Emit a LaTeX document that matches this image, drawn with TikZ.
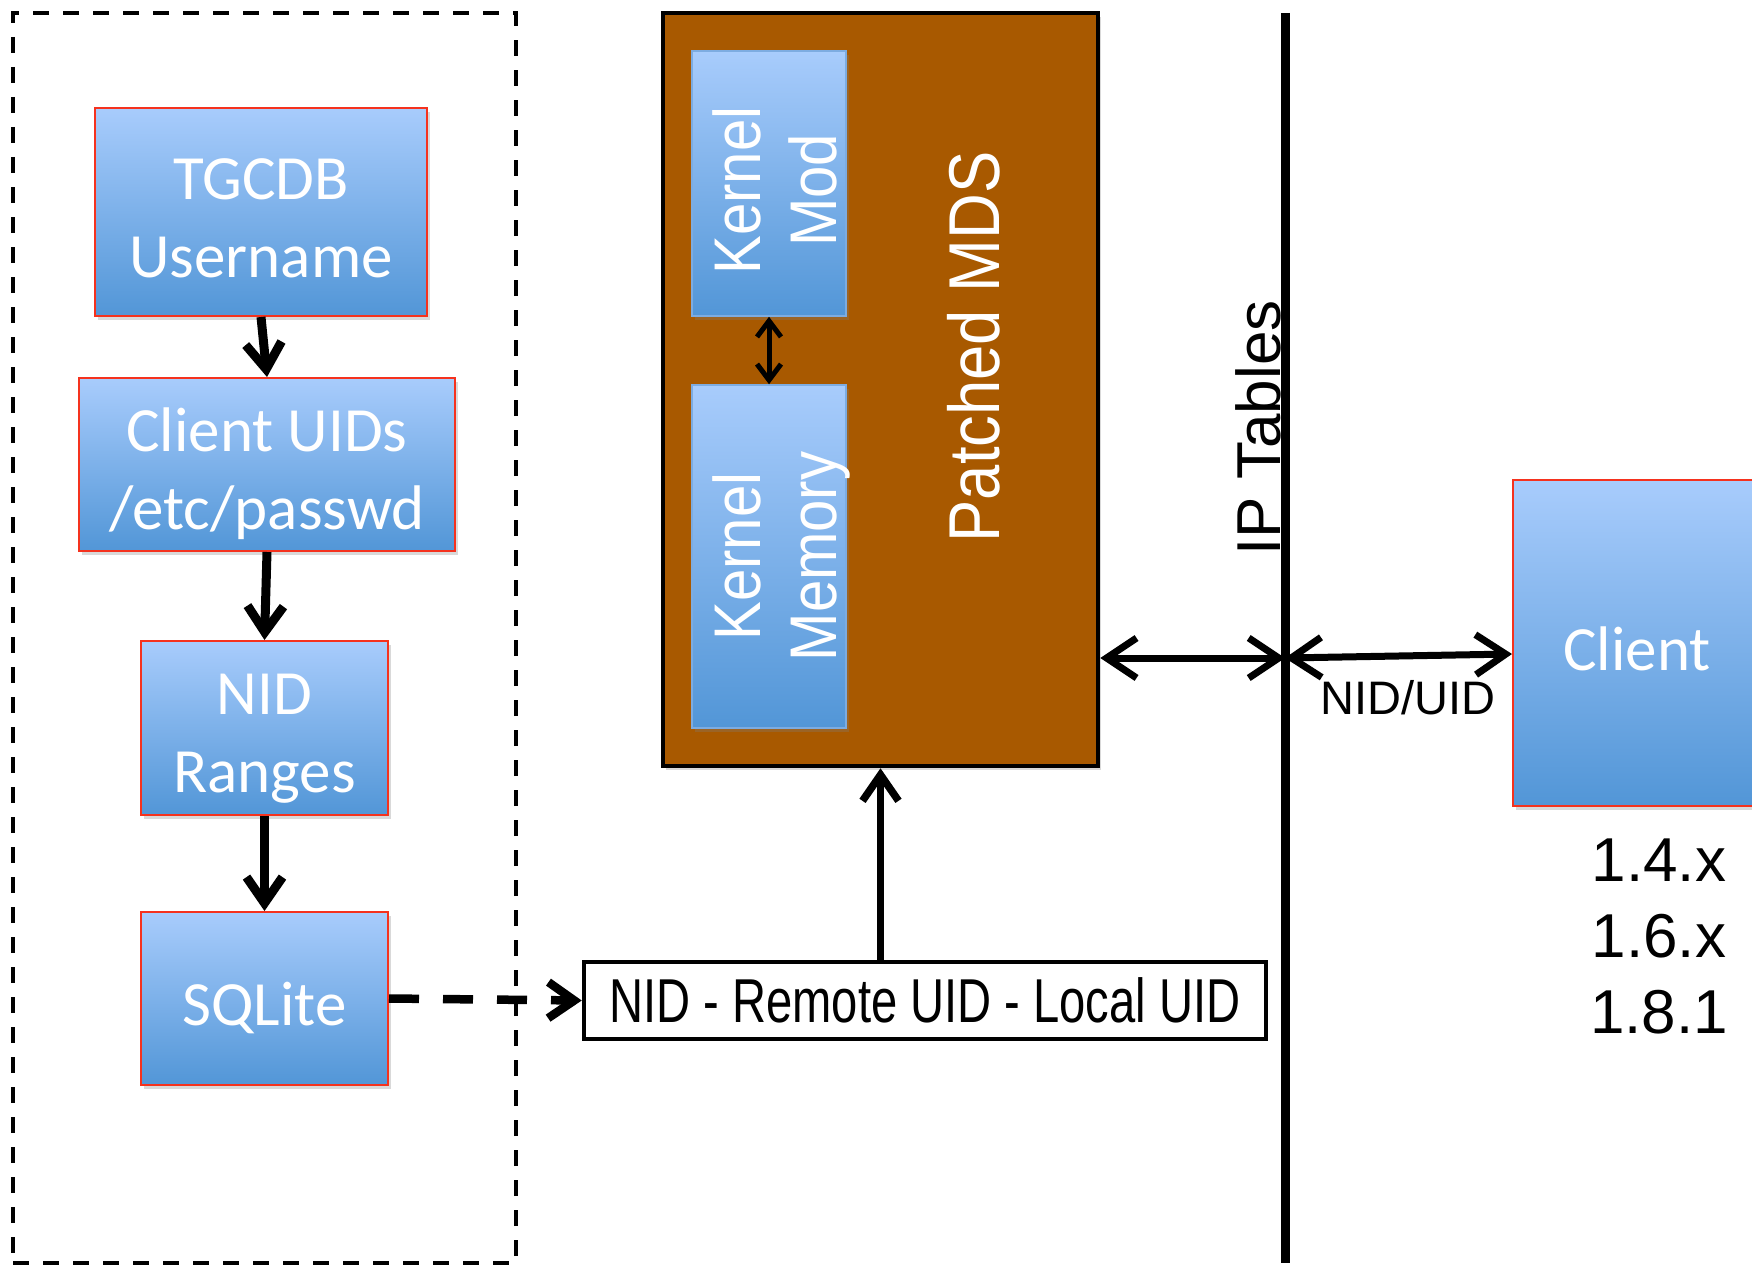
\documentclass[tikz,border=0pt]{standalone}
\usepackage{fontspec}
\setmainfont{Carlito}
\newfontfamily\arialf{Liberation Sans}
\newfontfamily\narrowf[FakeStretch=0.88]{Liberation Sans}
\newfontfamily\mapf[FakeStretch=0.76]{Liberation Sans}
\usetikzlibrary{arrows.meta,shadows}
\definecolor{bluetop}{RGB}{168,204,252}
\definecolor{bluebot}{RGB}{82,150,215}
\definecolor{boxred}{RGB}{245,50,30}
\definecolor{mdsbrown}{RGB}{168,89,0}
\definecolor{kborder}{RGB}{125,172,225}
\begin{document}
\begin{tikzpicture}[x=1pt,y=-1pt,
  shad/.style={drop shadow={shadow xshift=3pt,shadow yshift=-4pt,opacity=0.3}},
  bluebox/.style={shad,draw=boxred,line width=2pt,top color=bluetop,bottom color=bluebot,inner sep=0pt},
  boxtext/.style={text=white,font=\fontsize{63}{78}\selectfont,align=center,inner sep=0pt},
  kbox/.style={shad,draw=kborder,line width=1.5pt,top color=bluetop,bottom color=bluebot,inner sep=0pt},
  ktext/.style={rotate=90,text=white,align=center,inner sep=0pt,text depth=0pt,font=\narrowf\fontsize{66}{76}\selectfont},
  grpbox/.style={draw,line width=3.5pt,dash pattern=on 16pt off 14pt,inner sep=0pt},
  flow/.style={line width=9pt,-{Straight Barb[length=26pt,width=36pt]}},
  dflow/.style={line width=8.5pt,dash pattern=on 30pt off 24pt,-{Straight Barb[length=26pt,width=36pt]}},
  upflow/.style={line width=7.5pt,-{Straight Barb[length=26pt,width=36pt]}},
  dbl/.style={line width=7pt,{Straight Barb[length=30pt,width=40pt]}-{Straight Barb[length=30pt,width=40pt]}},
  kdbl/.style={line width=5pt,{Straight Barb[length=16pt,width=24pt]}-{Straight Barb[length=16pt,width=24pt]}}
]
\useasboundingbox (0,0) rectangle (1752,1268);
\clip (0,0) rectangle (1752,1268);

% left dashed group
\node[grpbox,minimum width=503pt,minimum height=1250pt] (grp) at (264.5,638) {};

\node[bluebox,minimum width=332pt,minimum height=208pt] (tgcdb) at (261,212) {};
\node[bluebox,minimum width=376pt,minimum height=173pt] (uids) at (267,464.5) {};
\node[bluebox,minimum width=247pt,minimum height=174pt] (nid) at (264.5,728) {};
\node[bluebox,minimum width=247pt,minimum height=173pt] (sqlite) at (264.5,998.5) {};
\node[boxtext] (tgcdbtxt) at ([yshift=-6pt]tgcdb.center) {TGCDB\\Username};
\node[boxtext] (uidstxt) at ([yshift=-9pt]uids.center) {Client UIDs\\/etc/passwd};
\node[boxtext] (nidtxt) at ([yshift=-11pt]nid.center) {NID\\Ranges};
\node[boxtext] (sqlitetxt) at ([yshift=-9pt]sqlite.center) {SQLite};

\draw[flow] (tgcdb.south) -- (uids.north);
\draw[flow] (uids.south) -- (nid.north);
\draw[flow] (nid.south) -- (sqlite.north);

% patched MDS
\node[shad,draw=black,line width=4.5pt,fill=mdsbrown,minimum width=435pt,minimum height=753pt,inner sep=0pt] (mds) at (880.5,389.5) {};
\node[rotate=90,text=white,inner sep=0pt,font=\narrowf\fontsize{72}{86}\selectfont] (mdstxt) at (974,347) {Patched MDS};
\node[kbox,minimum width=154pt,minimum height=265pt] (kmod) at (769,183.5) {};
\node[kbox,minimum width=154pt,minimum height=343pt] (kmem) at (769,556.5) {};
\node[ktext] (kmodtxt) at ([xshift=6pt,yshift=-7pt]kmod.center) {Kernel\\Mod};
\node[ktext] (kmemtxt) at ([xshift=6pt]kmem.center) {Kernel\\Memory};
\draw[kdbl] (kmod.south) -- (kmem.north);

% mapping box
\node[draw=black,line width=4.5pt,fill=white,minimum width=682pt,minimum height=77pt,inner sep=0pt,
  font=\mapf\fontsize{62}{74}\selectfont] (map) at (925,1000.5) {NID - Remote UID - Local UID};
\draw[dflow] (sqlite.east) -- (map.west);
\draw[upflow] (map.north -| mds.south) -- (mds.south);

% IP tables line
\coordinate (ipT) at (1285,13);
\coordinate (ipB) at (1285,1263);
\coordinate (ipA) at (1285,658);
\draw[line width=9pt] (ipT) -- (ipB);
\node[rotate=90,inner sep=0pt,font=\arialf\fontsize{62}{74}\selectfont] (iptxt) at (1258,428) {IP Tables};

% client
\node[bluebox,minimum width=248pt,minimum height=326pt] (client) at (1637,643) {};
\node[boxtext] (clienttxt) at ([yshift=-6pt]client.center) {Client};
\draw[dbl] (mds.east |- ipA) -- (ipA);
\draw[dbl] (ipA) -- ([yshift=-11pt]client.west);
\node[inner sep=0pt,font=\arialf\fontsize{47}{56}\selectfont] (nidlbl) at (1408,698) {NID/UID};
\node[inner sep=0pt,align=center,font=\arialf\fontsize{62}{76}\selectfont] (vers) at (1659,936) {1.4.x\\1.6.x\\1.8.1};
\end{tikzpicture}
\end{document}
